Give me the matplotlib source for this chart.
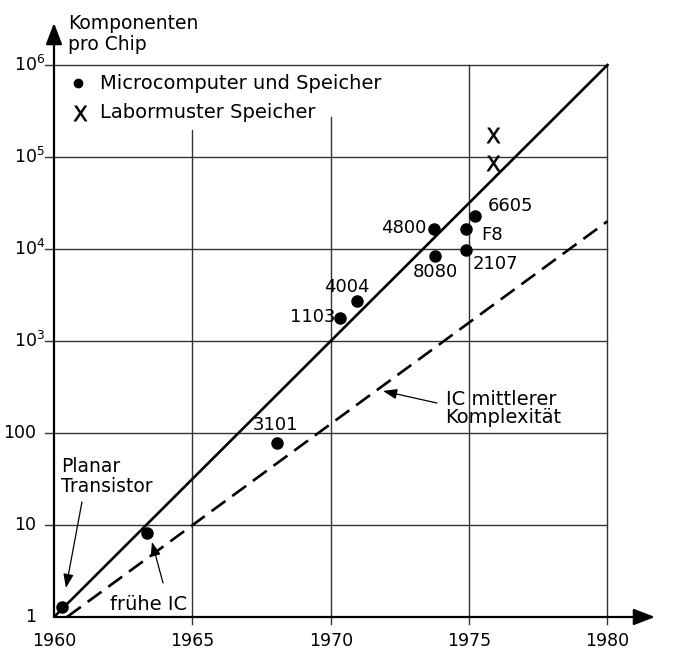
import matplotlib
matplotlib.use("Agg")
import matplotlib.pyplot as plt

plt.rcParams['font.family'] = ['DejaVu Sans']
plt.rcParams['mathtext.fontset'] = 'dejavusans'

# Daten (Jahr, Komponenten pro Chip)
chip_names = ["Planar", "frühe IC", "3101", "1103", "4004", "4800", "8080", "6605", "F8", "2107"]
chip_years = [1960.3, 1963.35, 1968.05, 1970.35, 1970.95, 1973.73, 1973.77, 1975.2, 1974.9, 1974.9]
chip_counts = [1.28, 8.2, 78, 1780, 2720, 16500, 8400, 22900, 16500, 9800]

lab_years = [1975.85, 1975.85]
lab_counts = [174000, 86000]

# Trendlinien
trend_years = [1960, 1980]
trend_counts = [1, 1e6]
ic_years = [1960.47, 1980]
ic_counts = [1, 2.0e4]

# Achsen
xtick_values = [1960, 1965, 1970, 1975, 1980]
xtick_labels = ["1960", "1965", "1970", "1975", "1980"]
ytick_values = [1, 10, 100, 1e3, 1e4, 1e5, 1e6]
ytick_labels = ["1", "10", "100", r"$\mathregular{10^3}$", r"$\mathregular{10^4}$",
                r"$\mathregular{10^5}$", r"$\mathregular{10^6}$"]
# obere Enden der senkrechten Gitterlinien (Legende ausgespart)
vgrid_tops = [10**5.29, 10**5.43, 1e6, 1e6]

# Beschriftungen der Punkte: (Text, x, y)
point_labels = [
    ("3101", 1967.99, 10**2.09),
    ("1103", 1969.34, 10**3.26),
    ("4004", 1970.59, 10**3.59),
    ("4800", 1972.65, 10**4.23),
    ("8080", 1973.77, 10**3.75),
    ("6605", 1976.48, 10**4.47),
    ("F8", 1975.83, 10**4.15),
    ("2107", 1975.94, 10**3.84),
]

fig = plt.figure(figsize=(6.78, 6.55), dpi=100)
ax = fig.add_axes([54 / 678, 38 / 655, 601 / 678, 594 / 655])
ax.set_yscale('log')
ax.set_xlim(1960, 1981.72)
ax.set_ylim(1, 10**6.457)
ax.axis('off')

grid_kw = dict(color='#333333', lw=1.0, clip_on=False, zorder=1)

# waagerechte Gitterlinien
for v in ytick_values[1:]:
    ax.plot([1959.67, 1980], [v, v], **grid_kw)
# senkrechte Gitterlinien
for x, top in zip(xtick_values[1:], vgrid_tops):
    ax.plot([x, x], [10**-0.08, top], **grid_kw)

# Achsenpfeile
arrow_kw = dict(arrowstyle='-|>,head_length=0.65,head_width=0.25', lw=1.6,
                color='black', mutation_scale=20, shrinkA=0, shrinkB=0)
ax.annotate('', xy=(1, 0), xytext=(0, 0), xycoords='axes fraction', arrowprops=arrow_kw)
ax.annotate('', xy=(0, 1), xytext=(0, 0), xycoords='axes fraction', arrowprops=arrow_kw)

# Tick-Beschriftungen
for v, lab in zip(ytick_values, ytick_labels):
    xpos = 1959.7 if v < 1000 else 1960.0
    ax.text(xpos - 0.33, v, lab, ha='right', va='center', fontsize=12.5)
for x, lab in zip(xtick_values, xtick_labels):
    ax.text(x, 10**-0.26, lab, ha='center', va='center', fontsize=12.5)

ax.text(1960.5, 10**6.34, "Komponenten\npro Chip", ha='left', va='center',
        fontsize=13.5, linespacing=1.1, clip_on=False)

# Trendlinien
ax.plot(trend_years, trend_counts, color='black', lw=1.9, zorder=3)
ax.plot(ic_years, ic_counts, color='black', lw=1.9, dashes=(6.5, 3.2), zorder=3)

# Messpunkte
ax.plot(chip_years, chip_counts, 'o', color='black', ms=8, zorder=4, clip_on=False)
ax.plot(lab_years, lab_counts, linestyle='none', marker=r'$\mathregular{X}$',
        color='black', ms=11, mew=0.4, zorder=4)

for txt, x, y in point_labels:
    ax.text(x, y, txt, ha='center', va='center', fontsize=13)

# Legende
ax.plot([1960.87], [10**5.80], 'o', color='black', ms=6)
ax.text(1961.66, 10**5.80, "Microcomputer und Speicher", ha='left', va='center', fontsize=14)
ax.plot([1960.95], [10**5.48], linestyle='none', marker=r'$\mathregular{X}$', color='black',
        ms=11, mew=0.4)
ax.text(1961.66, 10**5.48, "Labormuster Speicher", ha='left', va='center', fontsize=14)

# Hinweise mit Pfeilen
note_kw = dict(arrowstyle='-|>,head_length=0.6,head_width=0.22', lw=0.9, color='black',
               mutation_scale=14, shrinkA=0, shrinkB=0)
ax.text(1960.25, 10**1.53, "Planar\nTransistor", ha='left', va='center', fontsize=13.5,
        linespacing=1.05)
ax.annotate('', xy=(1960.43, 10**0.315), xytext=(1961.01, 10**1.25), arrowprops=note_kw,
            annotation_clip=False)
ax.text(1963.43, 10**0.14, "frühe IC", ha='center', va='center', fontsize=14)
ax.annotate('', xy=(1963.54, 10**0.815), xytext=(1963.94, 10**0.37), arrowprops=note_kw)
ax.text(1974.15, 10**2.27, "IC mittlerer\nKomplexität", ha='left', va='center',
        fontsize=14, linespacing=0.95)
ax.annotate('', xy=(1971.89, 10**2.457), xytext=(1973.84, 10**2.326), arrowprops=note_kw)

plt.savefig("out.png", dpi=100)
